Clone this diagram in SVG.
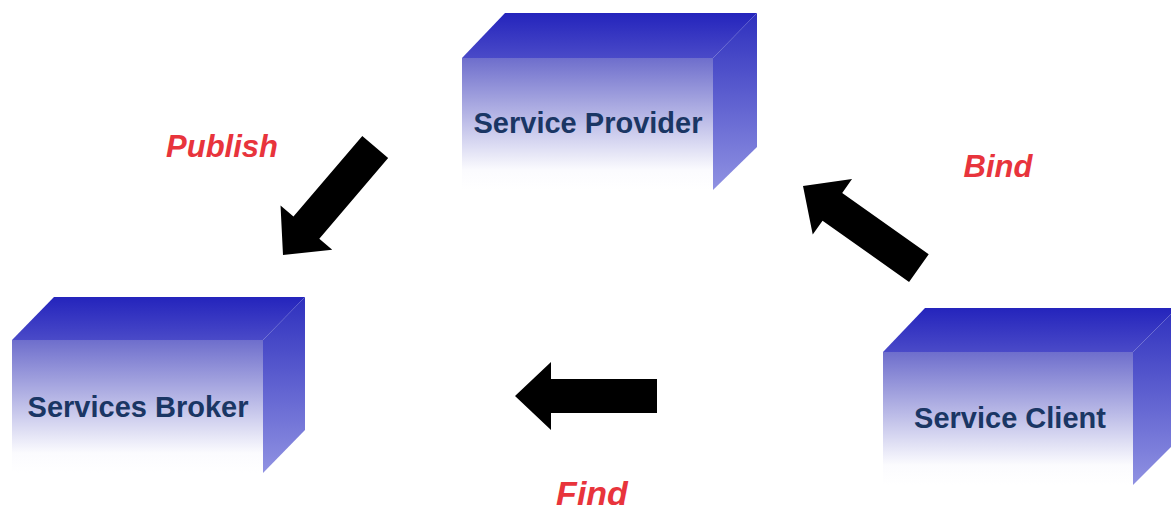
<svg xmlns="http://www.w3.org/2000/svg" width="1171" height="511" viewBox="0 0 1171 511">
  <defs>
    <linearGradient id="gTop" x1="0" y1="0" x2="0" y2="1">
      <stop offset="0" stop-color="#2424bc"/>
      <stop offset="1" stop-color="#4a4ac8"/>
    </linearGradient>
    <linearGradient id="gFront" x1="0" y1="0" x2="0" y2="1">
      <stop offset="0" stop-color="#6e6ecc"/>
      <stop offset="0.45" stop-color="#b8b8e6"/>
      <stop offset="0.85" stop-color="#fbfbfe"/>
      <stop offset="1" stop-color="#ffffff"/>
    </linearGradient>
    <linearGradient id="gSide" x1="0" y1="0" x2="0" y2="1">
      <stop offset="0" stop-color="#2e30be"/>
      <stop offset="1" stop-color="#9092e2"/>
    </linearGradient>
    <polygon id="arrow" points="0,0 -36,-34 -36,-17 -142,-17 -142,17 -36,17 -36,34"/>
    <style>
      .top { fill: url(#gTop); }
      .front { fill: url(#gFront); }
      .side { fill: url(#gSide); }
      .nlabel { font-family: "Liberation Sans", Arial, sans-serif; font-weight: bold; font-size: 29px; fill: #1a3664; text-anchor: middle; }
      .elabel { font-family: "Liberation Sans", Arial, sans-serif; font-weight: bold; font-style: italic; font-size: 31px; fill: #e8343c; text-anchor: middle; }
      .arr { fill: #000000; }
    </style>
  </defs>
  <rect width="1171" height="511" fill="#ffffff"/>

  <g id="service-provider">
    <rect class="front" x="462" y="58" width="251" height="132"/>
    <polygon class="top" points="462,58 505,13 757,13 713,58"/>
    <polygon class="side" points="713,58 757,13 757,147 713,190"/>
    <text class="nlabel" x="588" y="133">Service Provider</text>
  </g>

  <g id="services-broker">
    <rect class="front" x="12" y="340" width="251" height="133"/>
    <polygon class="top" points="12,340 54,297 305,297 263,340"/>
    <polygon class="side" points="263,340 305,297 305,430 263,473"/>
    <text class="nlabel" x="138" y="417">Services Broker</text>
  </g>

  <g id="service-client">
    <rect class="front" x="883" y="352" width="250" height="133"/>
    <polygon class="top" points="883,352 925,308 1177,308 1133,352"/>
    <polygon class="side" points="1133,352 1177,308 1177,441 1133,485"/>
    <text class="nlabel" x="1010" y="428">Service Client</text>
  </g>

  <g id="connectors">
    <use href="#arrow" class="arr" transform="translate(283,255) rotate(130.5)"/>
    <use href="#arrow" class="arr" transform="translate(803,186) rotate(-144.7)"/>
    <use href="#arrow" class="arr" transform="translate(515,396) rotate(180)"/>
    <text class="elabel" x="222" y="157">Publish</text>
    <text class="elabel" x="998" y="177">Bind</text>
    <text class="elabel" x="592" y="505" style="font-size:34px">Find</text>
  </g>
</svg>
